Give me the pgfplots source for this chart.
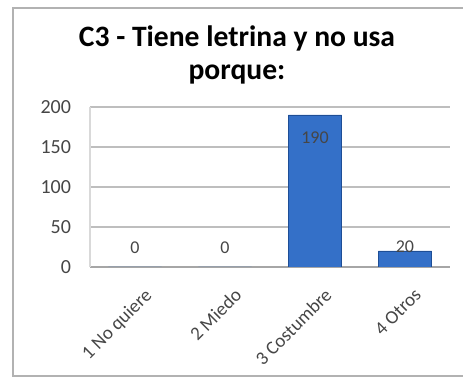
\documentclass[border=0pt]{standalone}
\usepackage{pgfplots}
\usepackage{pgfplotstable}
\pgfplotsset{compat=1.18}
\usepackage{fontspec}
\setmainfont{Carlito}

\definecolor{barblue}{RGB}{52,112,200}
\definecolor{baredge}{RGB}{30,78,150}
\definecolor{gridgray}{RGB}{190,190,190}
\definecolor{ticktext}{RGB}{70,70,70}

% x, value, label offset (pt)
\pgfplotstableread{
x y dy
1 0 9.5
2 0 9.5
3 190 -11.5
4 20 2
}\datatable

\begin{document}
\begin{tikzpicture}[x=1pt,y=1pt]
\useasboundingbox (-45,-55.5) rectangle (186.5,133.5);
\draw[gray!60, line width=1pt] (186.5,129.5) -- (-38.5,129.5) -- (-38.5,-54.5) -- (186.5,-54.5);
\node[font=\bfseries\fontsize{14.8}{16.5}\selectfont, align=center] at (73.5,106) {C3 - Tiene letrina y no usa\\porque:};
\begin{axis}[
    at={(0,0)}, anchor=origin,
    scale only axis,
    width=180pt, height=80pt,
    xmin=0.5, xmax=4.5,
    ymin=0, ymax=200,
    ytick={0,50,100,150,200},
    xtick={1,2,3,4},
    xticklabels={1 No quiere, 2 Miedo, 3 Costumbre, 4 Otros},
    x tick label style={rotate=45, anchor=north east, font=\fontsize{9.5}{12}\selectfont, text=ticktext, inner sep=1pt, yshift=-9pt, xshift=-3pt},
    y tick label style={font=\fontsize{10}{12}\selectfont, text=ticktext, xshift=-6pt},
    /pgf/number format/assume math mode=true,
    major tick length=0pt,
    ymajorgrids,
    grid style={gridgray, line width=0.8pt},
    axis x line*=bottom,
    axis y line*=left,
    x axis line style={gray!70, line width=0.8pt, -},
    y axis line style={gray!30, line width=0.6pt, -},
    ybar,
    bar width=0.59,
    visualization depends on={\thisrow{dy} \as \dy},
    nodes near coords,
    every node near coord/.append style={anchor=center, yshift=\dy pt, font=\fontsize{9}{10}\selectfont, text=ticktext},
    point meta=explicit,
]
\addplot[fill=barblue, draw=baredge, line width=0.4pt] table[x=x, y=y, meta=y] {\datatable};
\end{axis}
\end{tikzpicture}
\end{document}
